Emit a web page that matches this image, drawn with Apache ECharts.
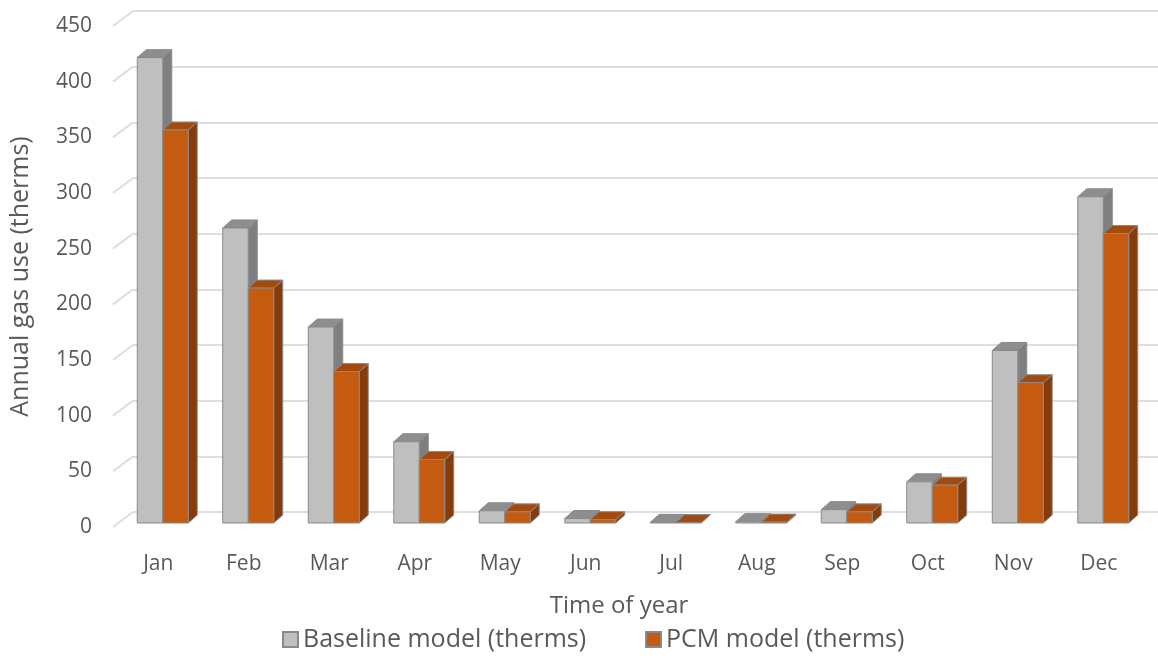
<!DOCTYPE html>
<html>
<head>
<meta charset="utf-8">
<script src="https://cdn.jsdelivr.net/npm/echarts@6/dist/echarts.min.js"></script>
<style>
  html, body { margin: 0; padding: 0; background: #ffffff; }
  #chart { width: 1158px; height: 659px; }
</style>
</head>
<body>
<div id="chart"></div>
<script>
// Monthly gas use, therms
const months = ['Jan', 'Feb', 'Mar', 'Apr', 'May', 'Jun', 'Jul', 'Aug', 'Sep', 'Oct', 'Nov', 'Dec'];
const baselineTherms = [418, 265, 176, 73, 11, 4, 0.6, 1.2, 12, 37, 155, 293];
const pcmTherms = [353, 211, 136, 57, 10, 3, 0.4, 0.8, 10, 34, 126, 260];
const yTicks = [0, 50, 100, 150, 200, 250, 300, 350, 400, 450];

const seriesNames = ['Baseline model (therms)', 'PCM model (therms)'];
const FONT = '"Open Sans", Lato, sans-serif';
const TEXT = '#595959';
const GRID_LINE = '#dedede';

// face colours: front, top, side
const faces = [
  { front: '#BFBFBF', top: '#8E8E8E', side: '#7F7F7F' },
  { front: '#C55A11', top: '#A34A0E', side: '#843C0C' }
];
const EDGE = '#8a8a8a';
const DEPTH_X = 9, DEPTH_Y = -8;     // extrusion of each column
const WALL_X = 20, WALL_Y = -15;     // offset of the back wall from the front edge
const BAR_SHARE = 0.298;             // column width as share of a month band

function columnRenderer(idx) {
  const c = faces[idx];
  return function (params, api) {
    const cat = api.value(0);
    const val = api.value(1);
    const base = api.coord([cat, 0]);
    const head = api.coord([cat, val]);
    const w = api.size([1, 0])[0] * BAR_SHARE;
    const x0 = idx === 0 ? base[0] - w : base[0];
    const x1 = x0 + w;
    const yb = base[1], yt = head[1];
    const st = { stroke: EDGE, lineWidth: 1, lineJoin: 'round' };
    return {
      type: 'group',
      children: [
        { type: 'polygon', shape: { points: [[x1, yt], [x1 + DEPTH_X, yt + DEPTH_Y], [x1 + DEPTH_X, yb + DEPTH_Y], [x1, yb]] },
          style: Object.assign({ fill: c.side }, st) },
        { type: 'polygon', shape: { points: [[x0, yt], [x1, yt], [x1 + DEPTH_X, yt + DEPTH_Y], [x0 + DEPTH_X, yt + DEPTH_Y]] },
          style: Object.assign({ fill: c.top }, st) },
        { type: 'rect', shape: { x: x0, y: yt, width: w, height: yb - yt },
          style: Object.assign({ fill: c.front }, st) }
      ]
    };
  };
}

function wallConnector(params, api) {
  const p = api.coord([0, api.value(0)]);
  return {
    type: 'line',
    shape: { x1: p[0], y1: p[1], x2: p[0] + WALL_X, y2: p[1] + WALL_Y },
    style: { stroke: GRID_LINE, lineWidth: 2 }
  };
}

const legendText = { color: TEXT, fontSize: 25, fontFamily: FONT };

const chart = echarts.init(document.getElementById('chart'), null, { renderer: 'canvas' });

chart.setOption({
  animation: false,
  backgroundColor: '#ffffff',
  textStyle: { fontFamily: FONT },
  grid: [
    // plane of the column fronts
    { left: 120, right: 12, top: 22, bottom: 136 },
    // back wall
    { left: 133, right: 0, top: 11, bottom: 147 },
    // front edge carrying the value labels
    { left: 113, right: 0, top: 26, bottom: 132 }
  ],
  xAxis: [
    { type: 'category', gridIndex: 0, data: months,
      axisLine: { show: false }, axisTick: { show: false },
      axisLabel: { color: TEXT, fontSize: 21, fontFamily: FONT, margin: 31, padding: [0, 9, 0, 0] } },
    { type: 'value', gridIndex: 1, min: 0, max: 1, show: false },
    { type: 'value', gridIndex: 2, min: 0, max: 1, show: false }
  ],
  yAxis: [
    { type: 'value', gridIndex: 0, min: 0, max: 450, interval: 50, show: false },
    { type: 'value', gridIndex: 1, min: 0, max: 450, interval: 50,
      axisLine: { show: false }, axisTick: { show: false }, axisLabel: { show: false },
      splitLine: { show: true, lineStyle: { color: GRID_LINE, width: 2 } } },
    { type: 'value', gridIndex: 2, min: 0, max: 450, interval: 50,
      axisLine: { show: false }, axisTick: { show: false }, splitLine: { show: false },
      axisLabel: { color: TEXT, fontSize: 21, fontFamily: FONT, margin: 21 },
      name: 'Annual gas use (therms)', nameLocation: 'middle', nameGap: 80,
      nameTextStyle: { color: TEXT, fontSize: 25, fontFamily: FONT } }
  ],
  legend: [
    { data: [seriesNames[0]], left: 277, top: 622,
      icon: 'rect', itemWidth: 15, itemHeight: 15, itemGap: 6, textStyle: legendText },
    { data: [seriesNames[1]], left: 640, top: 622,
      icon: 'rect', itemWidth: 15, itemHeight: 15, itemGap: 6, textStyle: legendText }
  ],
  graphic: [
    { type: 'text', x: 619, y: 606,
      style: { text: 'Time of year', fill: TEXT, font: '24px ' + FONT,
               textAlign: 'center', textVerticalAlign: 'middle' } }
  ],
  series: [
    { type: 'custom', name: 'wall-edges', xAxisIndex: 2, yAxisIndex: 2, silent: true,
      data: yTicks.map(v => [v]), encode: { y: 0 }, renderItem: wallConnector, z: 1 },
    { type: 'custom', name: seriesNames[0], xAxisIndex: 0, yAxisIndex: 0,
      itemStyle: { color: faces[0].front, borderColor: EDGE, borderWidth: 1 },
      data: baselineTherms.map((v, i) => [i, v]), encode: { x: 0, y: 1 },
      renderItem: columnRenderer(0), z: 3 },
    { type: 'custom', name: seriesNames[1], xAxisIndex: 0, yAxisIndex: 0,
      itemStyle: { color: faces[1].front, borderColor: EDGE, borderWidth: 1 },
      data: pcmTherms.map((v, i) => [i, v]), encode: { x: 0, y: 1 },
      renderItem: columnRenderer(1), z: 4 }
  ]
});
</script>
</body>
</html>
